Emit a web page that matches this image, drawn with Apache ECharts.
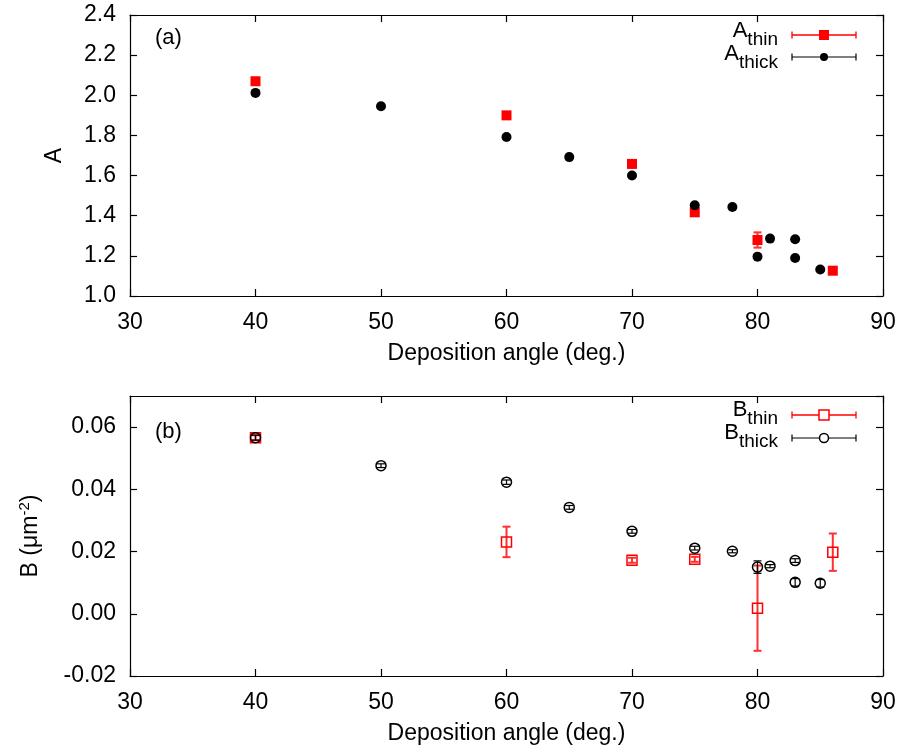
<!DOCTYPE html>
<html>
<head>
<meta charset="utf-8">
<script src="https://cdn.jsdelivr.net/npm/echarts@6/dist/echarts.min.js"></script>
<style>
html,body{margin:0;padding:0;background:#fff;}
#chart{width:899px;height:751px;}
</style>
</head>
<body>
<div id="chart"></div>
<script>
// ---- data ----
const aThinX = [40, 60, 70, 75, 80, 86];
const aThinY = [2.07, 1.90, 1.658, 1.417, 1.279, 1.126];
const aThinErr = [0.004, 0.004, 0.004, 0.004, 0.038, 0.004];

const aThickX = [40, 50, 60, 65, 70, 75, 78, 80, 81, 83, 83, 85];
const aThickY = [2.012, 1.945, 1.792, 1.692, 1.600, 1.452, 1.443, 1.196, 1.286, 1.283, 1.189, 1.132];
const aThickErr = [0.003, 0.003, 0.003, 0.003, 0.003, 0.003, 0.003, 0.003, 0.003, 0.003, 0.003, 0.003];

const bThinX = [40, 60, 70, 75, 80, 86];
const bThinY = [0.0566, 0.0231, 0.0172, 0.0175, 0.0018, 0.0198];
const bThinErr = [0.0008, 0.0049, 0.0008, 0.0008, 0.0137, 0.0060];

const bThickX = [40, 50, 60, 65, 70, 75, 78, 80, 81, 83, 83, 85];
const bThickY = [0.0566, 0.0476, 0.0423, 0.0342, 0.0265, 0.0211, 0.0201, 0.0150, 0.0153, 0.0171, 0.0101, 0.0098];
const bThickErr = [0.0008, 0.0006, 0.0007, 0.0006, 0.0006, 0.0006, 0.0005, 0.0020, 0.0005, 0.0006, 0.0012, 0.0012];

const xTitle = 'Deposition angle (deg.)';
const aTitle = 'A';
const legendA = ['thin', 'thick'];
const legendB = ['thin', 'thick'];

// ---- styling ----
const FONT = '"Liberation Sans", Arial, Helvetica, sans-serif';
const FS = 23;
const RED = '#ff0000';
const BLACK = '#000000';

function pts(xs, ys, es) { return xs.map((x, i) => es ? [x, ys[i], es[i]] : [x, ys[i]]); }

function errRender(color, lw, cap) {
  return function (params, api) {
    const x = api.value(0), y = api.value(1), e = api.value(2);
    const lo = api.coord([x, y - e]);
    const hi = api.coord([x, y + e]);
    const h = cap / 2;
    const st = { stroke: color, lineWidth: lw };
    return {
      type: 'group',
      children: [
        { type: 'line', shape: { x1: lo[0], y1: lo[1], x2: hi[0], y2: hi[1] }, style: st },
        { type: 'line', shape: { x1: lo[0] - h, y1: lo[1], x2: lo[0] + h, y2: lo[1] }, style: st },
        { type: 'line', shape: { x1: hi[0] - h, y1: hi[1], x2: hi[0] + h, y2: hi[1] }, style: st }
      ]
    };
  };
}

const axisLine = { show: true, onZero: false, lineStyle: { color: '#000', width: 1.2 } };
const tick = { show: true, inside: true, length: 7, lineStyle: { color: '#000', width: 1.2 } };
const lab = { color: '#000', fontFamily: FONT, fontSize: FS };

function xAx(grid, pos, show) {
  return {
    type: 'value', gridIndex: grid, position: pos, min: 30, max: 90, interval: 10,
    axisLine: axisLine, axisTick: tick, splitLine: { show: false },
    axisLabel: show ? Object.assign({ margin: 15 }, lab) : { show: false },
    name: show ? xTitle : '', nameLocation: 'middle', nameGap: 46,
    nameTextStyle: { color: '#000', fontFamily: FONT, fontSize: FS }
  };
}

const chart = echarts.init(document.getElementById('chart'), null, { renderer: 'canvas' });

const subRich = {
  m: { fontFamily: FONT, fontSize: 22, color: '#000', lineHeight: 22 },
  s: { fontFamily: FONT, fontSize: 19, color: '#000', padding: [18, 0, 0, 0] }
};

function legendText(main, sub, y) {
  return {
    type: 'text', x: 778, y: y, z: 100,
    style: { text: '{m|' + main + '}{s|' + sub + '}', rich: subRich, align: 'right', verticalAlign: 'middle' }
  };
}
function legendBar(y, color, lw) {
  return [
    { type: 'line', shape: { x1: 792, y1: y, x2: 856, y2: y }, style: { stroke: color, lineWidth: lw }, z: 100 },
    { type: 'line', shape: { x1: 792, y1: y - 3.5, x2: 792, y2: y + 3.5 }, style: { stroke: color, lineWidth: lw }, z: 100 },
    { type: 'line', shape: { x1: 856, y1: y - 3.5, x2: 856, y2: y + 3.5 }, style: { stroke: color, lineWidth: lw }, z: 100 }
  ];
}

const option = {
  animation: false,
  backgroundColor: '#fff',
  grid: [
    { left: 130, right: 16, top: 15, height: 281 },
    { left: 130, right: 16, top: 396, height: 280 }
  ],
  xAxis: [xAx(0, 'bottom', true), xAx(0, 'top', false), xAx(1, 'bottom', true), xAx(1, 'top', false)],
  yAxis: [
    {
      type: 'value', gridIndex: 0, position: 'left', min: 1.0, max: 2.4, interval: 0.2,
      axisLine: axisLine, axisTick: tick, splitLine: { show: false },
      axisLabel: Object.assign({ margin: 14, formatter: v => v.toFixed(1) }, lab),
      name: aTitle, nameLocation: 'middle', nameGap: 64, nameRotate: 90,
      nameTextStyle: { color: '#000', fontFamily: FONT, fontSize: FS }
    },
    {
      type: 'value', gridIndex: 0, position: 'right', min: 1.0, max: 2.4, interval: 0.2,
      axisLine: axisLine, axisTick: tick, splitLine: { show: false }, axisLabel: { show: false }
    },
    {
      type: 'value', gridIndex: 1, position: 'left', min: -0.02, max: 0.07, interval: 0.02,
      axisLine: axisLine, axisTick: tick, splitLine: { show: false },
      axisLabel: Object.assign({ margin: 14, showMaxLabel: false, formatter: v => v.toFixed(2) }, lab),
      name: 'B (μm{sup|-2})', nameLocation: 'middle', nameGap: 85, nameRotate: 90,
      nameTextStyle: {
        color: '#000', fontFamily: FONT, fontSize: FS,
        rich: { sup: { fontFamily: FONT, fontSize: 15, color: '#000', padding: [0, 0, 13, 0] } }
      }
    },
    {
      type: 'value', gridIndex: 1, position: 'right', min: -0.02, max: 0.07, interval: 0.02,
      axisLine: axisLine, axisTick: tick, splitLine: { show: false }, axisLabel: { show: false }
    }
  ],
  series: [
    // top panel
    { type: 'custom', xAxisIndex: 0, yAxisIndex: 0, z: 2, renderItem: errRender('#ff3030', 2, 8),
      encode: { x: 0, y: 1 }, data: pts(aThinX, aThinY, aThinErr) },
    { type: 'custom', xAxisIndex: 0, yAxisIndex: 0, z: 2, renderItem: errRender(BLACK, 1.2, 8),
      encode: { x: 0, y: 1 }, data: pts(aThickX, aThickY, aThickErr) },
    { type: 'scatter', xAxisIndex: 0, yAxisIndex: 0, z: 3, symbol: 'rect', symbolSize: 10,
      itemStyle: { color: RED, opacity: 1 }, data: pts(aThinX, aThinY) },
    { type: 'scatter', xAxisIndex: 0, yAxisIndex: 0, z: 4, symbol: 'circle', symbolSize: 10,
      itemStyle: { color: BLACK, opacity: 1 }, data: pts(aThickX, aThickY) },
    // bottom panel
    { type: 'custom', xAxisIndex: 2, yAxisIndex: 2, z: 2, renderItem: errRender('#ff3030', 2, 8),
      encode: { x: 0, y: 1 }, data: pts(bThinX, bThinY, bThinErr) },
    { type: 'custom', xAxisIndex: 2, yAxisIndex: 2, z: 2, renderItem: errRender(BLACK, 1.2, 8),
      encode: { x: 0, y: 1 }, data: pts(bThickX, bThickY, bThickErr) },
    { type: 'scatter', xAxisIndex: 2, yAxisIndex: 2, z: 3, symbol: 'rect', symbolSize: 10,
      itemStyle: { color: 'rgba(0,0,0,0)', borderColor: RED, borderWidth: 1.5, opacity: 1 }, data: pts(bThinX, bThinY) },
    { type: 'scatter', xAxisIndex: 2, yAxisIndex: 2, z: 4, symbol: 'circle', symbolSize: 10,
      itemStyle: { color: 'rgba(0,0,0,0)', borderColor: BLACK, borderWidth: 1.5, opacity: 1 }, data: pts(bThickX, bThickY) }
  ],
  graphic: [
    { type: 'text', x: 155, y: 38, style: { text: '(a)', fontFamily: FONT, fontSize: 22, fill: '#000', verticalAlign: 'middle' } },
    { type: 'text', x: 155, y: 432, style: { text: '(b)', fontFamily: FONT, fontSize: 22, fill: '#000', verticalAlign: 'middle' } },
    legendText('A', legendA[0], 31),
    legendText('A', legendA[1], 54),
    legendText('B', legendB[0], 410),
    legendText('B', legendB[1], 433)
  ]
    .concat(legendBar(35, RED, 1.3))
    .concat([{ type: 'rect', shape: { x: 819, y: 30, width: 10, height: 10 }, style: { fill: RED }, z: 101 }])
    .concat(legendBar(57, BLACK, 1.2))
    .concat([{ type: 'circle', shape: { cx: 824, cy: 57, r: 4 }, style: { fill: BLACK }, z: 101 }])
    .concat(legendBar(415, RED, 1.3))
    .concat([{ type: 'rect', shape: { x: 819, y: 410, width: 10, height: 10 }, style: { fill: '#fff', stroke: RED, lineWidth: 1.5 }, z: 101 }])
    .concat(legendBar(438, BLACK, 1.2))
    .concat([{ type: 'circle', shape: { cx: 824, cy: 438, r: 4.5 }, style: { fill: '#fff', stroke: BLACK, lineWidth: 1.5 }, z: 101 }])
};

chart.setOption(option);
</script>
</body>
</html>
